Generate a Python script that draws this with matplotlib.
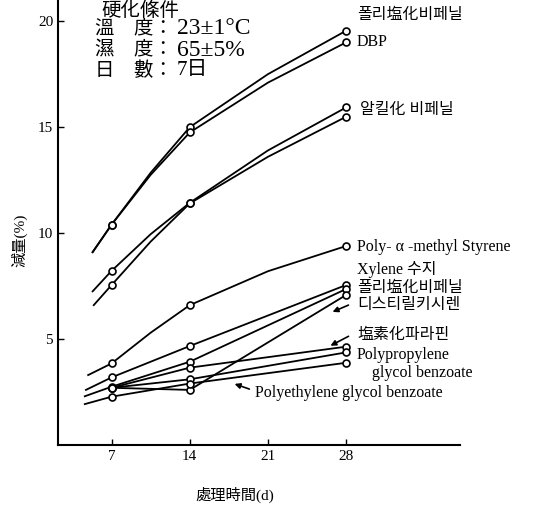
import matplotlib
matplotlib.use("Agg")
from matplotlib import pyplot as plt

plt.rcParams['font.family'] = ['Liberation Serif', 'Noto Sans CJK KR']

# days of treatment and weight loss (%) for each plasticizer
pcb_top_x = [5.3, 7, 10.5, 14, 21, 28]
pcb_top_y = [9.1, 10.4, 12.85, 15.0, 17.5, 19.55]
dbp_x = [5.3, 7, 10.5, 14, 21, 28]
dbp_y = [9.1, 10.4, 12.75, 14.75, 17.1, 19.0]
alkyl1_x = [5.3, 7, 10.5, 14, 21, 28]
alkyl1_y = [7.25, 8.22, 9.95, 11.43, 13.9, 15.93]
alkyl2_x = [5.4, 7, 10.5, 14, 21, 28]
alkyl2_y = [6.6, 7.55, 9.6, 11.4, 13.6, 15.49]
pams_x = [4.9, 7, 10.5, 14, 21, 28]
pams_y = [3.3, 3.85, 5.3, 6.6, 8.2, 9.39]
xylene_x = [4.7, 7, 14, 28]
xylene_y = [2.6, 3.19, 4.67, 7.55]
pcb_low_x = [4.6, 7, 14, 28]
pcb_low_y = [2.3, 2.75, 3.93, 7.36]
distyryl_x = [7, 14, 28]
distyryl_y = [2.7, 2.6, 7.08]
clpar_x = [7, 14, 28]
clpar_y = [2.7, 3.65, 4.64]
ppg_x = [7, 14, 28]
ppg_y = [2.7, 3.1, 4.37]
peg_x = [4.6, 7, 14, 28]
peg_y = [1.93, 2.28, 2.9, 3.88]

marker_days = [7, 14, 28]

xticks = [7, 14, 21, 28]
yticks = [5, 10, 15, 20]

fig = plt.figure(figsize=(5.35, 5.05), dpi=100)
ax = fig.add_axes([58 / 535, 60 / 505, 402 / 535, 445 / 505])


def px(x, y):
    return (x / 535, 1 - y / 505)


series = [
    (pcb_top_x, pcb_top_y), (dbp_x, dbp_y),
    (alkyl1_x, alkyl1_y), (alkyl2_x, alkyl2_y),
    (pams_x, pams_y), (xylene_x, xylene_y), (pcb_low_x, pcb_low_y),
    (distyryl_x, distyryl_y), (clpar_x, clpar_y), (ppg_x, ppg_y),
    (peg_x, peg_y),
]
for sx, sy in series:
    ax.plot(sx, sy, c="black", lw=1.3, zorder=2)
    mx = [v for v in sx if v in marker_days]
    my = [sy[i] for i, v in enumerate(sx) if v in marker_days]
    ax.plot(mx, my, ls="none", marker="o", ms=5, mfc="white",
            mec="black", mew=1.2, zorder=3)

ax.set_xlim(2.2, 38.2)
ax.set_ylim(0, 21.0)
ax.set_xticks(xticks)
ax.set_yticks(yticks)
ax.tick_params(direction="in", length=4, width=1, labelsize=11)
for s in ["top", "right"]:
    ax.spines[s].set_visible(False)
ax.spines["left"].set_linewidth(1.5)
ax.spines["bottom"].set_linewidth(1.5)
ax.set_xlabel("處理時間(d)", fontsize=11)
ax.xaxis.set_label_coords(0.44, -0.095)
ax.set_ylabel("減量(%)", fontsize=11)
ax.yaxis.set_label_coords(-0.075, 0.46)

# curing conditions box
fig.text(*px(140, 16), "硬化條件", fontsize=14, ha="center", va="baseline")
fig.text(*px(95, 29), "溫　度：", fontsize=14, va="center")
fig.text(*px(177, 29), "23±1°C", fontsize=17, va="center")
fig.text(*px(95, 50), "濕　度：", fontsize=14, va="center")
fig.text(*px(177, 50), "65±5%", fontsize=17, va="center")
fig.text(*px(95, 71), "日　數：", fontsize=14, va="center")
fig.text(*px(177, 71), "7日", fontsize=15, va="center")

# line labels on the right
labels = [
    (357, 15, "폴리塩化비페닐"),
    (357, 42, "DBP"),
    (360, 110, "알킬化 비페닐"),
    (357, 247, "Poly- α -methyl Styrene"),
    (357, 270, "Xylene 수지"),
    (357, 288, "폴리塩化비페닐"),
    (357, 305, "디스티릴키시렌"),
    (357, 335, "塩素化파라핀"),
    (357, 355, "Polypropylene"),
    (372, 373, "glycol benzoate"),
    (255, 393, "Polyethylene glycol benzoate"),
]
for lx, ly, t in labels:
    fig.text(*px(lx, ly), t, fontsize=11.5, va="center")

arrows = [((351, 304), (330, 313)), ((351, 335), (328, 347)),
          ((252, 390), (232, 383))]
for (x0, y0), (x1, y1) in arrows:
    ax.annotate("", xy=px(x1, y1), xycoords="figure fraction",
                xytext=px(x0, y0), textcoords="figure fraction",
                arrowprops=dict(arrowstyle="-|>", color="black", lw=1.2,
                                mutation_scale=8))

fig.savefig("out.png", dpi=100)
